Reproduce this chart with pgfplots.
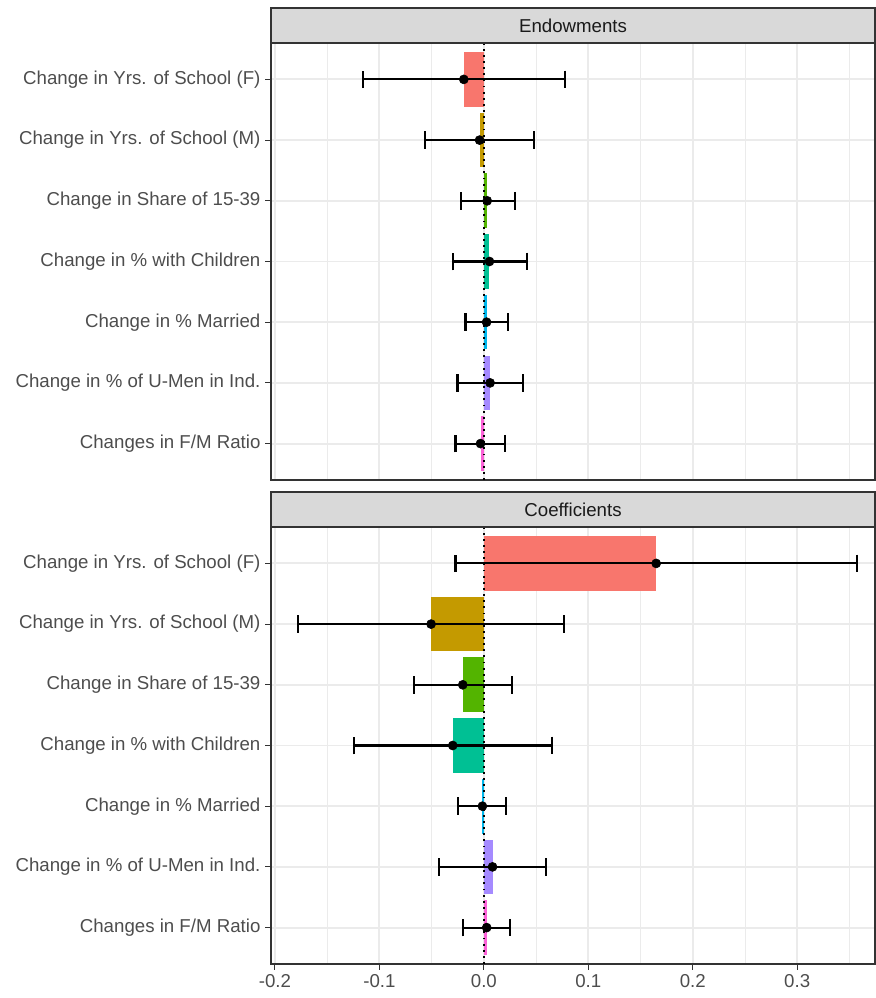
\documentclass[border=0pt]{standalone}
\usepackage{pgfplots}
\pgfplotsset{compat=1.18}
\usepackage{pgfplotstable}
\usepackage{fontspec}
\setmainfont{Liberation Sans}

\definecolor{c1}{HTML}{F8766D}
\definecolor{c2}{HTML}{C49A00}
\definecolor{c3}{HTML}{53B400}
\definecolor{c4}{HTML}{00C094}
\definecolor{c5}{HTML}{00B6EB}
\definecolor{c6}{HTML}{A58AFF}
\definecolor{c7}{HTML}{FB61D7}
\definecolor{gray92}{HTML}{EBEBEB}
\definecolor{gray85}{HTML}{D9D9D9}
\definecolor{gray20}{HTML}{333333}
\definecolor{gray30}{HTML}{4D4D4D}
\definecolor{gray10}{HTML}{1A1A1A}

% y: category position (7 = top), val: estimate, lo/hi: interval
\pgfplotstableread{
y val lo hi
7 -0.0192 -0.1156 0.0773
6 -0.0041 -0.0562 0.0479
5 0.0032 -0.0220 0.0297
4 0.0054 -0.0297 0.0409
3 0.0026 -0.0176 0.0233
2 0.0060 -0.0252 0.0376
1 -0.0032 -0.0271 0.0204
}\endowdata

\pgfplotstableread{
y val lo hi
7 0.1650 -0.0272 0.3575
6 -0.0505 -0.1780 0.0770
5 -0.0202 -0.0671 0.0271
4 -0.0298 -0.1244 0.0651
3 -0.0014 -0.0246 0.0216
2 0.0083 -0.0427 0.0596
1 0.0027 -0.0202 0.0253
}\coefdata

\pgfplotsset{
  panel/.style={
    scale only axis, width=453pt, height=327.75pt,
    xmin=-0.2038, xmax=0.3745, ymin=0.4, ymax=7.6,
    xtick={-0.2,-0.1,0,0.1,0.2,0.3},
    minor xtick={-0.15,-0.05,0.05,0.15,0.25,0.35},
    ytick={1,2,3,4,5,6,7},
    yticklabels={Changes in F/M Ratio, Change in \% of U-Men in Ind., Change in \% Married, Change in \% with Children, Change in Share of 15-39, Change in Yrs. of School (M), Change in Yrs. of School (F)},
    grid=both,
    major grid style={gray92, line width=1.4pt},
    minor grid style={gray92, line width=0.7pt},
    axis line style={gray20, line width=0.8pt},
    tick align=outside, tick pos=left,
    major tick length=4.4pt, minor tick length=0pt,
    major tick style={gray20, line width=0.8pt},
    tick label style={font=\fontsize{14}{16}\selectfont, text=gray30},
  },
  bars/.style={xbar, bar width=0.9, bar shift=0pt, draw=none},
  zline/.style={black, line width=1.6pt, dash pattern=on 1.4pt off 3.2pt},
  est/.style={only marks, mark=*, mark size=3.4pt, black, line width=1.6pt,
    mark options={line width=0.4pt},
    error bars/.cd, x dir=both, x explicit,
    error bar style={line width=1.6pt, black},
    error mark=|, error mark options={mark size=6.6pt, line width=1.6pt, black}},
}

\begin{document}
\begin{tikzpicture}
\useasboundingbox (-203.25pt,-25.5pt) rectangle (453pt,723pt);

% ---------- top panel: Endowments ----------
\begin{axis}[panel, name=top, at={(0pt,363pt)}, anchor=south west,
  xticklabels={}, x tick style={draw=none}]
\addplot[bars, fill=c1] coordinates {(-0.0192,7)};
\addplot[bars, fill=c2] coordinates {(-0.0041,6)};
\addplot[bars, fill=c3] coordinates {(0.0032,5)};
\addplot[bars, fill=c4] coordinates {(0.0054,4)};
\addplot[bars, fill=c5] coordinates {(0.0026,3)};
\addplot[bars, fill=c6] coordinates {(0.0060,2)};
\addplot[bars, fill=c7] coordinates {(-0.0032,1)};
\addplot[zline] coordinates {(0,0.4) (0,7.6)};
\addplot[est] table[x=val, y=y,
  x error plus expr=\thisrow{hi}-\thisrow{val},
  x error minus expr=\thisrow{val}-\thisrow{lo}] {\endowdata};
\end{axis}
\draw[gray20, line width=0.8pt, fill=gray85] (top.north west) rectangle ([yshift=26.25pt]top.north east);
\node[text=gray10, font=\fontsize{14}{16}\selectfont] at ([yshift=13.1pt]top.north) {Endowments};

% ---------- bottom panel: Coefficients ----------
\begin{axis}[panel, name=bot, at={(0pt,0pt)}, anchor=south west,
  xticklabels={-0.2,-0.1,0.0,0.1,0.2,0.3}]
\addplot[bars, fill=c1] coordinates {(0.1650,7)};
\addplot[bars, fill=c2] coordinates {(-0.0505,6)};
\addplot[bars, fill=c3] coordinates {(-0.0202,5)};
\addplot[bars, fill=c4] coordinates {(-0.0298,4)};
\addplot[bars, fill=c5] coordinates {(-0.0014,3)};
\addplot[bars, fill=c6] coordinates {(0.0083,2)};
\addplot[bars, fill=c7] coordinates {(0.0027,1)};
\addplot[zline] coordinates {(0,0.4) (0,7.6)};
\addplot[est] table[x=val, y=y,
  x error plus expr=\thisrow{hi}-\thisrow{val},
  x error minus expr=\thisrow{val}-\thisrow{lo}] {\coefdata};
\end{axis}
\draw[gray20, line width=0.8pt, fill=gray85] (bot.north west) rectangle ([yshift=26.25pt]bot.north east);
\node[text=gray10, font=\fontsize{14}{16}\selectfont] at ([yshift=13.1pt]bot.north) {Coefficients};
\end{tikzpicture}
\end{document}
